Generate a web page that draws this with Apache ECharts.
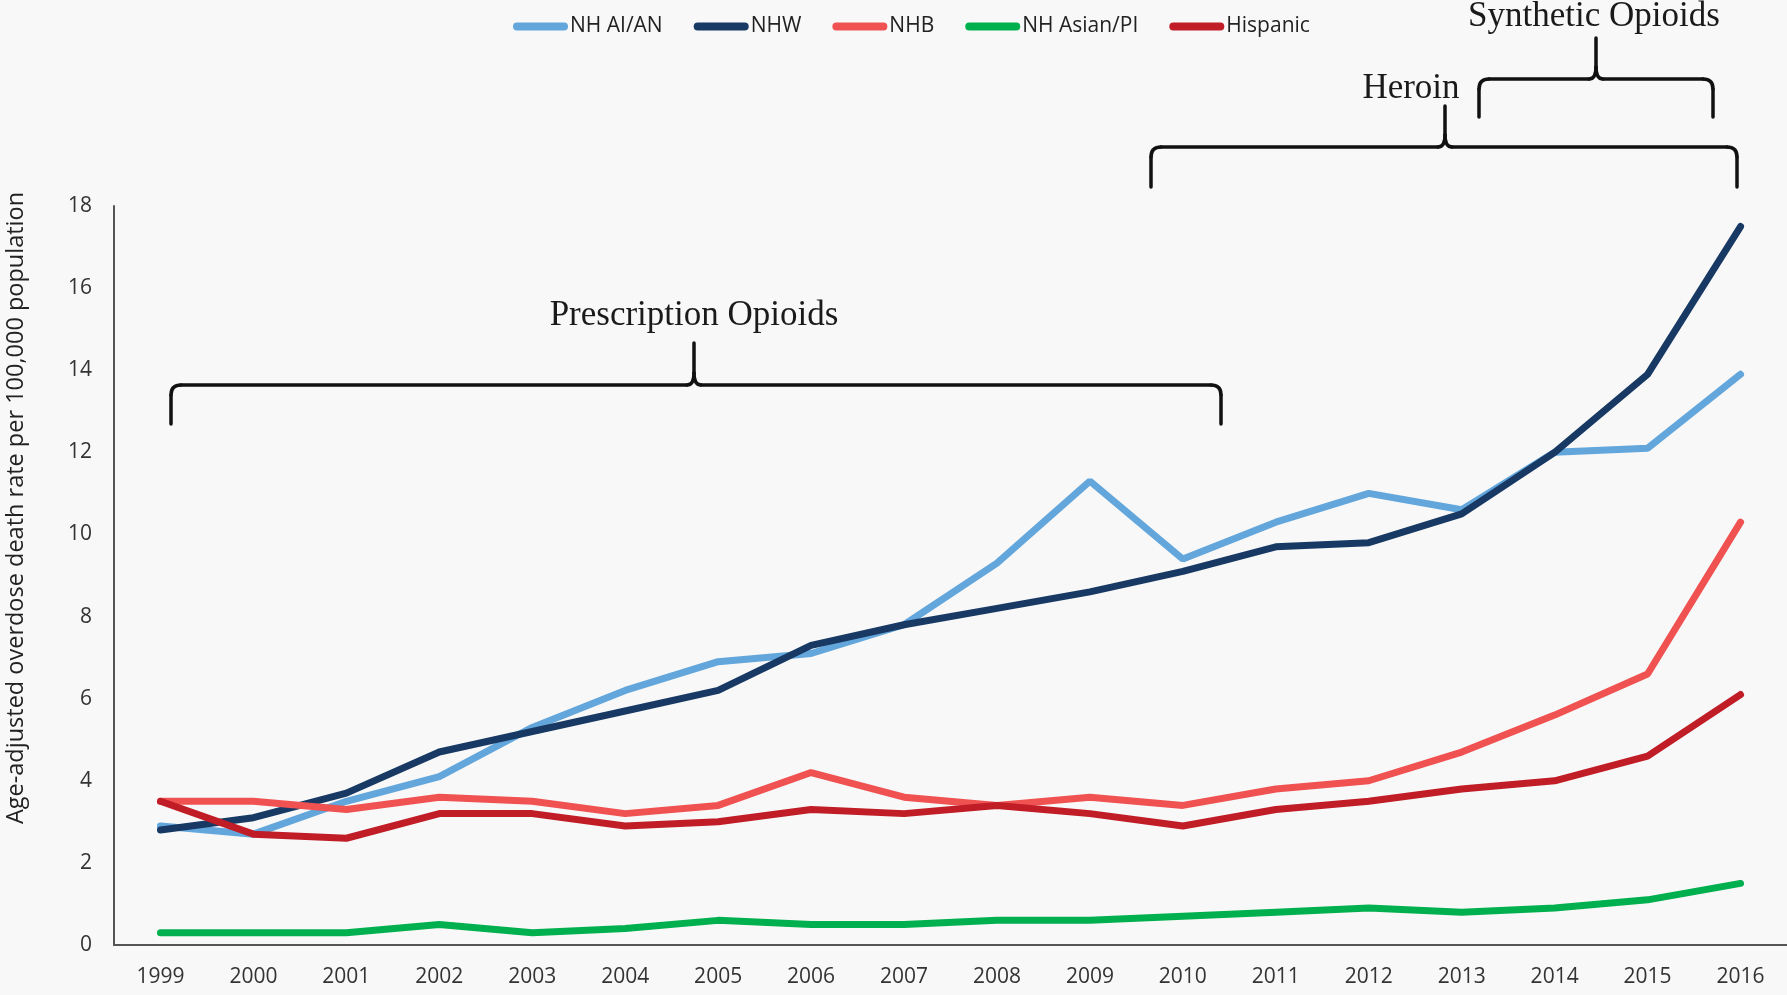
<!DOCTYPE html>
<html><head><meta charset="utf-8">
<script src="https://cdn.jsdelivr.net/npm/echarts@6/dist/echarts.min.js"></script>
<style>html,body{margin:0;padding:0;background:#f8f8f8;}#c{width:1787px;height:995px;}</style>
</head><body><div id="c"></div>
<script>
const years = ['1999','2000','2001','2002','2003','2004','2005','2006','2007','2008','2009','2010','2011','2012','2013','2014','2015','2016'];
const nhAIAN   = [2.9,2.7,3.5,4.1,5.3,6.2,6.9,7.1,7.8,9.3,11.3,9.4,10.3,11.0,10.6,12.0,12.1,13.9];
const nhw      = [2.8,3.1,3.7,4.7,5.2,5.7,6.2,7.3,7.8,8.2,8.6,9.1,9.7,9.8,10.5,12.0,13.9,17.5];
const nhb      = [3.5,3.5,3.3,3.6,3.5,3.2,3.4,4.2,3.6,3.4,3.6,3.4,3.8,4.0,4.7,5.6,6.6,10.3];
const nhAsian  = [0.3,0.3,0.3,0.5,0.3,0.4,0.6,0.5,0.5,0.6,0.6,0.7,0.8,0.9,0.8,0.9,1.1,1.5];
const hispanic = [3.5,2.7,2.6,3.2,3.2,2.9,3.0,3.3,3.2,3.4,3.2,2.9,3.3,3.5,3.8,4.0,4.6,6.1];
const seriesNames = ['NH AI/AN','NHW','NHB','NH Asian/PI','Hispanic'];
const seriesColors = ['#62a6dc','#173963','#f05252','#00b04f','#c01d27'];
const yAxisTitle = 'Age-adjusted overdose death rate per 100,000 population';

const chart = echarts.init(document.getElementById('c'));
const braceStyle = {fill: null, stroke: '#111', lineWidth: 3.5, lineCap: 'round'};
function brace(x0, x1, xm, yLine, yEnd, yTip) {
  const r = 10, k = 7;
  const els = [
    {type: 'line', shape: {x1: x0, y1: yEnd, x2: x0, y2: yLine + r}},
    {type: 'bezierCurve', shape: {x1: x0, y1: yLine + r, cpx1: x0, cpy1: yLine, x2: x0 + r, y2: yLine}},
    {type: 'line', shape: {x1: x0 + r, y1: yLine, x2: xm - k, y2: yLine}},
    {type: 'bezierCurve', shape: {x1: xm - k, y1: yLine, cpx1: xm, cpy1: yLine, x2: xm, y2: yLine - 12}},
    {type: 'line', shape: {x1: xm, y1: yLine - 12, x2: xm, y2: yTip}},
    {type: 'bezierCurve', shape: {x1: xm + k, y1: yLine, cpx1: xm, cpy1: yLine, x2: xm, y2: yLine - 12}},
    {type: 'line', shape: {x1: xm + k, y1: yLine, x2: x1 - r, y2: yLine}},
    {type: 'bezierCurve', shape: {x1: x1 - r, y1: yLine, cpx1: x1, cpy1: yLine, x2: x1, y2: yLine + r}},
    {type: 'line', shape: {x1: x1, y1: yLine + r, x2: x1, y2: yEnd}}
  ];
  els.forEach(e => e.style = braceStyle);
  return {type: 'group', children: els};
}
const labelStyle = (x, y, t) => ({type: 'text', x: x, y: y, style: {text: t, fill: '#1a1a1a', font: '35px "Liberation Serif", serif', textAlign: 'center', textVerticalAlign: 'middle'}});
const data = [nhAIAN, nhw, nhb, nhAsian, hispanic];
chart.setOption({
  backgroundColor: '#f8f8f8',
  animation: false,
  grid: {left: 114, right: 0, top: 206, bottom: 50},
  legend: {
    left: 508, top: 11, itemWidth: 55, itemHeight: 8, itemGap: 31,
    icon: 'path://M4,0 L51,0 A4,4 0 0 1 51,8 L4,8 A4,4 0 0 1 4,0 Z',
    textStyle: {fontFamily: 'Open Sans', fontSize: 21, color: '#222', padding: [0,0,0,-3]},
    data: seriesNames
  },
  xAxis: {
    type: 'category', data: years, boundaryGap: true,
    axisLine: {lineStyle: {color: '#555', width: 2}},
    axisTick: {show: false},
    axisLabel: {color: '#333', fontFamily: 'Open Sans', fontSize: 21, margin: 22}
  },
  yAxis: {
    type: 'value', min: 0, max: 18, interval: 2,
    axisLine: {show: true, lineStyle: {color: '#555', width: 2}},
    axisTick: {show: false},
    splitLine: {show: false},
    axisLabel: {color: '#333', fontFamily: 'Open Sans', fontSize: 21, margin: 22}
  },
  graphic: [
    {type: 'text', x: 16, y: 508, rotation: Math.PI / 2, style: {text: yAxisTitle, fill: '#222', font: '23.5px "Open Sans"', textAlign: 'center', textVerticalAlign: 'middle'}},
    brace(171, 1221, 694, 385, 424, 343),
    labelStyle(694, 316, 'Prescription Opioids'),
    brace(1151, 1737, 1445, 147, 187, 106),
    labelStyle(1411, 89, 'Heroin'),
    brace(1479, 1713, 1596, 79, 117, 38),
    labelStyle(1594, 17, 'Synthetic Opioids')
  ],
  series: seriesNames.map((n, i) => ({
    name: n, type: 'line', data: data[i], symbol: 'none',
    color: seriesColors[i],
    lineStyle: {width: 7, color: seriesColors[i], cap: 'round'}
  }))
});
</script></body></html>
